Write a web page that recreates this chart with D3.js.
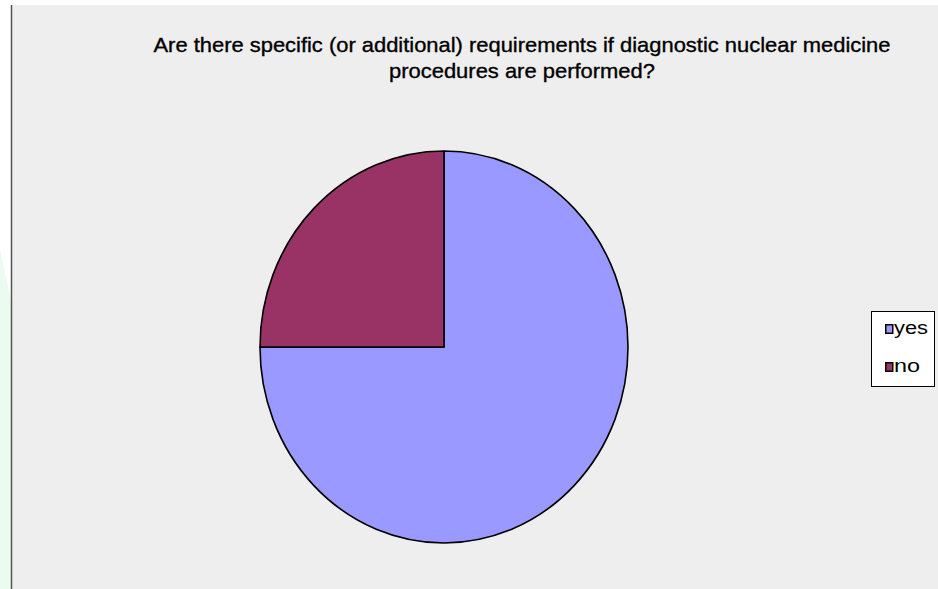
<!DOCTYPE html>
<html><head><meta charset="utf-8">
<script src="https://cdn.jsdelivr.net/npm/d3@7"></script>
<style>html,body{margin:0;padding:0;background:#fff;}svg{display:block;}</style>
</head><body>
<script>
const categories = ["yes", "no"];
const values = [75, 25];
const colors = ["#9999FF", "#993366"];
const titleLines = ["Are there specific (or additional) requirements if diagnostic nuclear medicine", "procedures are performed?"];

const W = 938, H = 589;
const svg = d3.select("body").append("svg").attr("width", W).attr("height", H);

// faint green tint on far-left strip
svg.append("path").attr("d", "M0,250 L11,300 L11,589 L0,589 Z").attr("fill", "#eafbf0");
// plot background
svg.append("rect").attr("x", 12).attr("y", 5).attr("width", W - 12).attr("height", H - 5).attr("fill", "#eeeeee");
// left border
svg.append("line").attr("x1", 11.5).attr("x2", 11.5).attr("y1", 5).attr("y2", H).attr("stroke", "#555").attr("stroke-width", 1.5);

// title
const title = svg.append("g");
const titleY = [52, 78];
const titleW = [737, 266];
titleLines.forEach((t, i) => {
  title.append("text").attr("x", 522).attr("y", titleY[i]).attr("text-anchor", "middle")
    .attr("font-family", "Liberation Sans, Arial, sans-serif").attr("font-size", 21)
    .attr("fill", "#000").attr("stroke", "#000").attr("stroke-width", 0.35)
    .attr("textLength", titleW[i]).attr("lengthAdjust", "spacingAndGlyphs")
    .text(t);
});

// pie (elliptical, as in reference)
const cx = 444, cy = 347, ry = 196, rx = 184;
const pie = d3.pie().sort(null).value(d => d)(values);
const arc = d3.arc().innerRadius(0).outerRadius(ry);
const g = svg.append("g").attr("transform", `translate(${cx},${cy}) scale(${rx / ry},1)`);
g.selectAll("path").data(pie).join("path")
  .attr("d", arc)
  .attr("fill", (d, i) => colors[i])
  .attr("stroke", "#000").attr("stroke-width", 1.6)
  .attr("vector-effect", "non-scaling-stroke")
  .attr("stroke-linejoin", "round");

// legend
const lg = svg.append("g");
lg.append("rect").attr("x", 871.5).attr("y", 311.5).attr("width", 63).attr("height", 75)
  .attr("fill", "#fff").attr("stroke", "#000").attr("stroke-width", 1);
const ly = d3.scalePoint().domain(categories).range([334, 372]);
const textW = [34, 26];
categories.forEach((c, i) => {
  lg.append("rect").attr("x", 885.75).attr("y", ly(c) - 9.25).attr("width", 7).attr("height", 8.5)
    .attr("fill", colors[i]).attr("stroke", "#000").attr("stroke-width", 1.5);
  lg.append("text").attr("x", 894).attr("y", ly(c))
    .attr("font-family", "Liberation Sans, Arial, sans-serif").attr("font-size", 18)
    .attr("textLength", textW[i]).attr("lengthAdjust", "spacingAndGlyphs")
    .attr("fill", "#000").text(c);
});
</script>
</body></html>
